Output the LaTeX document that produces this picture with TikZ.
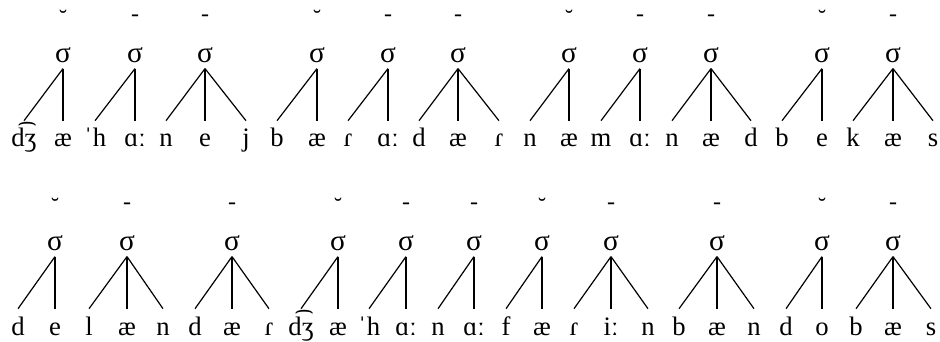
\documentclass[tikz,border=0pt]{standalone}
\usepackage{fontspec}
\setmainfont{Liberation Serif}
\begin{document}
\begin{tikzpicture}[x=0.75pt,y=-0.75pt,
	sigma/.style={anchor=base,inner xsep=0pt,inner ysep=4pt,text depth=0pt,font=\fontsize{22}{22}\selectfont},
	seg/.style={anchor=base,inner xsep=0pt,inner ysep=5.5pt,text height=14pt,text depth=0pt,font=\fontsize{20}{20}\selectfont},
	wt/.style={inner sep=0pt,font=\fontsize{18}{18}\selectfont},
	branch/.style={line width=0.9pt}]
	\useasboundingbox (0,0) rectangle (940,342);
	% first line
	\foreach \w/\sx/\segs [count=\i] in {
		{˘}/63/{24/d͡ʒ,63/æ},
		{-}/135/{95/ˈh,135/ɑː},
		{-}/205/{166/n,205/e,246/j},
		{˘}/317/{277/b,317/æ},
		{-}/388/{348/ɾ,388/ɑː},
		{-}/458/{419/d,458/æ,499/ɾ},
		{˘}/569/{530/n,569/æ},
		{-}/640/{601/m,640/ɑː},
		{-}/711/{672/n,711/æ,751/d},
		{˘}/822/{782/b,822/e},
		{-}/893/{853/k,893/æ,933/s}}{
		\node[wt] (wa\i) at (\sx,18) {\w};
		\node[sigma] (sa\i) at (\sx,63) {σ};
		\foreach \x/\t [count=\k] in \segs {
			\node[seg] (pa\i-\k) at (\x,147) {\t};
			\draw[branch] (sa\i.south) -- (pa\i-\k.north);
		}
	}
	% second line
	\foreach \w/\sx/\segs [count=\i] in {
		{˘}/55/{18/d,55/e},
		{-}/127/{89/l,127/æ,163/n},
		{-}/232/{195/d,232/æ,269/ɾ},
		{˘}/338/{301/d͡ʒ,338/æ},
		{-}/406/{369/ˈh,406/ɑː},
		{-}/474/{438/n,474/ɑː},
		{˘}/542/{506/f,542/æ},
		{-}/611/{574/ɾ,611/iː,648/n},
		{-}/717/{679/b,717/æ,754/n},
		{˘}/822/{786/d,822/o},
		{-}/893/{856/b,893/æ,931/s}}{
		\node[wt] (wb\i) at (\sx,206) {\w};
		\node[sigma] (sb\i) at (\sx,251) {σ};
		\foreach \x/\t [count=\k] in \segs {
			\node[seg] (pb\i-\k) at (\x,335) {\t};
			\draw[branch] (sb\i.south) -- (pb\i-\k.north);
		}
	}
\end{tikzpicture}
\end{document}
